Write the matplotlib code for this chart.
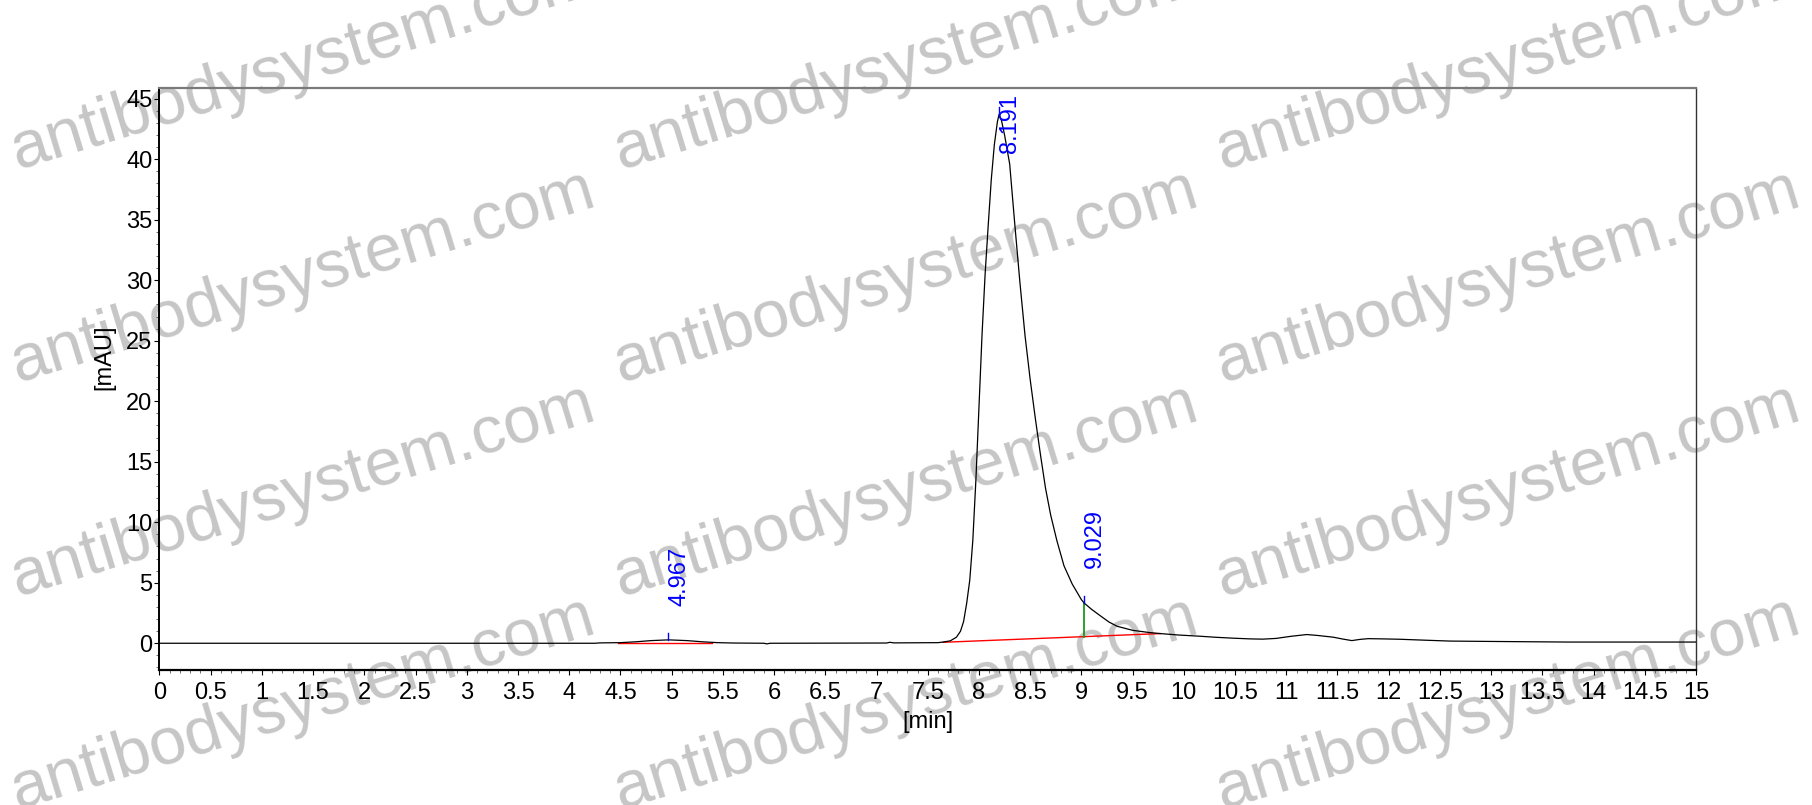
import matplotlib.pyplot as plt
from matplotlib.ticker import MultipleLocator, FormatStrFormatter

plt.rcParams['font.family'] = ['Liberation Sans', 'DejaVu Sans']

# chromatogram trace (time in min, signal in mAU)
time_min = [0.0, 4.25, 4.3, 4.5, 4.65, 4.8, 4.97, 5.15, 5.3, 5.45, 5.6, 5.9, 5.93, 5.96,
            7.1, 7.13, 7.17, 7.6, 7.65, 7.72, 7.78, 7.82, 7.85, 7.88, 7.91, 7.94, 7.97,
            8.0, 8.03, 8.06, 8.09, 8.12, 8.15, 8.18, 8.196, 8.22, 8.25, 8.3, 8.35, 8.4,
            8.45, 8.5, 8.55, 8.6, 8.65, 8.7, 8.76, 8.83, 8.91, 9.0, 9.03, 9.1, 9.18,
            9.27, 9.35, 9.5, 9.65, 9.77, 9.95, 10.16, 10.3, 10.48, 10.65, 10.77, 10.9,
            11.05, 11.2, 11.3, 11.46, 11.55, 11.64, 11.72, 11.8, 11.95, 12.11, 12.3,
            12.6, 13.0, 13.74, 15.0]
signal_mau = [0.0, 0.0, 0.03, 0.05, 0.12, 0.22, 0.28, 0.22, 0.12, 0.05, 0.02, 0.0, -0.05, 0.0,
              0.02, 0.08, 0.03, 0.05, 0.1, 0.2, 0.5, 1.0, 1.8, 3.3, 5.2, 8.5, 13.5,
              19.5, 25.5, 30.5, 34.5, 38.3, 41.2, 43.1, 43.7, 43.2, 42.0, 39.6, 34.6, 29.8,
              25.4, 21.8, 18.6, 15.6, 12.8, 10.6, 8.5, 6.4, 4.9, 3.6, 3.3, 2.8, 2.3,
              1.75, 1.4, 1.07, 0.9, 0.8, 0.68, 0.58, 0.5, 0.42, 0.36, 0.34, 0.4,
              0.58, 0.72, 0.65, 0.5, 0.35, 0.22, 0.32, 0.38, 0.36, 0.33, 0.27,
              0.18, 0.15, 0.1, 0.1]

# integration baselines (start/end time and level)
base_t = [[4.48, 5.39], [7.65, 9.77]]
base_v = [[0.02, 0.02], [0.08, 0.8]]

# peak retention times and labels
peak_rt = [4.967, 8.191, 9.029]
peak_top = [0.28, 43.7, 3.3]
peak_label_y = [3.1, 40.5, 6.2]
peak_labels = ['4.967', '8.191', '9.029']
split_rt = 9.029
split_lo = 0.55
split_hi = 3.3

fig = plt.figure(figsize=(18.12, 8.05), dpi=100)
ax = fig.add_axes([0.0880, 0.1671, 0.8480, 0.7242])
ax.set_facecolor('none')

# watermark behind the plot
for row_y in [0.92, 0.655, 0.39, 0.125]:
    for col_x in [0.167, 0.5, 0.832]:
        fig.text(col_x, row_y, 'antibodysystem.com', fontsize=48, color='#c6c6c6',
                 rotation=17, ha='center', va='center', zorder=-5)

ax.plot(time_min, signal_mau, color='black', linewidth=0.9, zorder=3)
for bt, bv in zip(base_t, base_v):
    ax.plot(bt, bv, color='red', linewidth=1.0, zorder=2)
ax.plot([split_rt, split_rt], [split_lo, split_hi], color='#1a9a1a', linewidth=1.3, zorder=2)

for rt, top, ly, lab in zip(peak_rt, peak_top, peak_label_y, peak_labels):
    ax.plot([rt, rt], [top, top + 0.6], color='blue', linewidth=1.0, zorder=4)
    ax.text(rt, ly, lab, color='blue', fontsize=17, rotation=90,
            ha='left', va='bottom', zorder=5)

ax.set_xlim(0, 15)
ax.set_ylim(-2.25, 45.93)
ax.xaxis.set_major_locator(MultipleLocator(0.5))
ax.xaxis.set_minor_locator(MultipleLocator(0.1))
ax.xaxis.set_major_formatter(FormatStrFormatter('%g'))
ax.yaxis.set_major_locator(MultipleLocator(5))
ax.yaxis.set_minor_locator(MultipleLocator(1))

ax.tick_params(axis='x', which='major', length=3.5, width=0.8, labelsize=17, pad=4.5)
ax.tick_params(axis='x', which='minor', length=2, width=0.6, color='#555555')
ax.tick_params(axis='y', which='major', length=3.5, width=0.8, labelsize=17, pad=1.5)
ax.tick_params(axis='y', which='minor', length=2, width=0.6, color='#555555')

ax.spines['left'].set_linewidth(1.4)
ax.spines['bottom'].set_linewidth(1.6)
ax.spines['top'].set_color('#7a7a7a')
ax.spines['top'].set_linewidth(1.6)
ax.spines['right'].set_color('#333333')
ax.spines['right'].set_linewidth(1.0)

ax.set_xlabel('[min]', fontsize=17)
ax.set_ylabel('[mAU]', fontsize=17)
ax.xaxis.set_label_coords(0.5, -0.069)
ax.yaxis.set_label_coords(-0.029, 0.537)

fig.savefig('out.png', dpi=100)
